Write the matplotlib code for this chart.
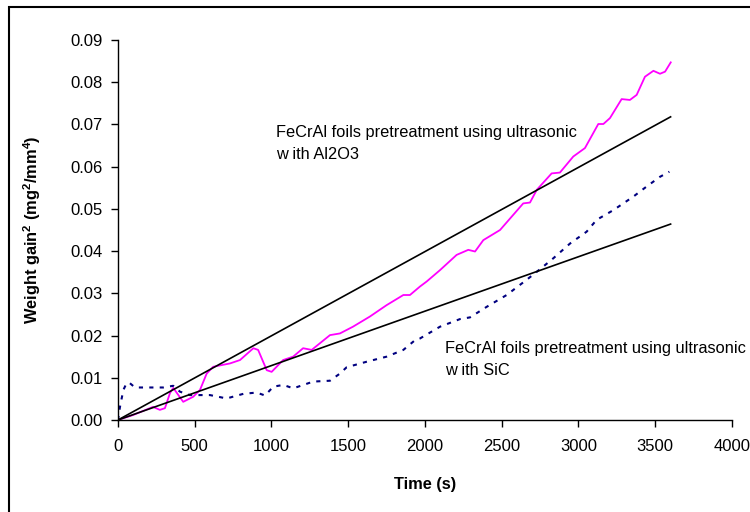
import matplotlib
matplotlib.use("Agg")
import matplotlib.pyplot as plt
from matplotlib.patches import Rectangle

plt.rcParams['font.family'] = ['Liberation Sans', 'DejaVu Sans']
plt.rcParams['mathtext.fontset'] = 'custom'
plt.rcParams['mathtext.rm'] = 'Liberation Sans'
plt.rcParams['mathtext.bf'] = 'Liberation Sans:bold'

# Al2O3 pretreated foil (magenta)
t_al = [0, 100, 228, 273, 306, 339, 360, 425, 490, 534, 578, 620, 730, 795, 882, 913,
        969, 1001, 1076, 1141, 1206, 1262, 1381, 1446, 1531, 1641, 1750, 1859, 1902,
        1967, 2011, 2098, 2206, 2282, 2326, 2380, 2489, 2640, 2684, 2728, 2825, 2879,
        2966, 3042, 3129, 3162, 3205, 3281, 3335, 3379, 3433, 3488, 3531, 3564, 3601]
w_al = [0, 0.0012, 0.0031, 0.0024, 0.0028, 0.0064, 0.0076, 0.0043, 0.0055, 0.0071,
        0.0110, 0.0126, 0.0134, 0.0142, 0.0170, 0.0166, 0.0118, 0.0114, 0.0142, 0.0150,
        0.0170, 0.0166, 0.0201, 0.0205, 0.0221, 0.0245, 0.0272, 0.0296, 0.0296, 0.0316,
        0.0328, 0.0355, 0.0391, 0.0403, 0.0399, 0.0426, 0.0450, 0.0513, 0.0515, 0.0545,
        0.0584, 0.0586, 0.0624, 0.0644, 0.0701, 0.0701, 0.0715, 0.0760, 0.0758, 0.0770,
        0.0813, 0.0827, 0.0820, 0.0825, 0.0847]

# SiC pretreated foil (navy, dashed)
t_sic = [0, 13, 35, 57, 78, 111, 295, 360, 404, 469, 599, 708, 817, 903, 958, 1012,
         1077, 1142, 1272, 1381, 1446, 1490, 1620, 1750, 1859, 1935, 1967, 2098, 2228,
         2293, 2402, 2532, 2662, 2749, 2836, 2945, 3053, 3118, 3227, 3357, 3444, 3531, 3592]
w_sic = [0, 0.0031, 0.0071, 0.0088, 0.0087, 0.0077, 0.0077, 0.0081, 0.0067, 0.0059,
         0.0059, 0.0051, 0.0062, 0.0065, 0.0058, 0.0079, 0.0083, 0.0075, 0.0091, 0.0093,
         0.0110, 0.0125, 0.0138, 0.0150, 0.0166, 0.0189, 0.0193, 0.0221, 0.0239, 0.0243,
         0.0268, 0.0296, 0.0332, 0.0357, 0.0383, 0.0418, 0.0446, 0.0474, 0.0497, 0.0529,
         0.0553, 0.0576, 0.0588]

# linear fits through origin
fit_t = [0, 3600]
fit_al = [0, 0.0718]
fit_sic = [0, 0.0464]

fig = plt.figure(figsize=(7.5, 5.12), dpi=100)
fig.patches.append(Rectangle((9 / 750, -0.1), 1.1, 1 - 7 / 512 + 0.1,
                             transform=fig.transFigure, fill=False,
                             edgecolor='black', linewidth=1.5))
ax = fig.add_axes([0.1573, 0.1797, 0.8187, 0.7422])

ax.plot(t_al, w_al, color='#ff00ff', linewidth=1.3)
ax.plot(t_sic, w_sic, color='#000080', linewidth=1.5, dashes=(2, 3))
ax.plot(fit_t, fit_al, color='black', linewidth=1.2)
ax.plot(fit_t, fit_sic, color='black', linewidth=1.2)

ax.text(1030, 0.0654, 'FeCrAl foils pretreatment using ultrasonic\nw ith Al2O3',
        fontsize=11.8, va='center', ha='left', linespacing=1.6)
ax.text(2130, 0.0143, 'FeCrAl foils pretreatment using ultrasonic\nw ith SiC',
        fontsize=11.8, va='center', ha='left', linespacing=1.6)

ax.set_xlim(0, 4000)
ax.set_ylim(0, 0.09)
ax.set_xticks(range(0, 4001, 500))
ax.set_yticks([i * 0.01 for i in range(10)])
ax.set_yticklabels([f'{i * 0.01:.2f}' for i in range(10)])
ax.tick_params(direction='out', length=5, width=1, labelsize=12)
ax.tick_params(axis='x', pad=9)
ax.tick_params(axis='y', pad=6)
for s in ['top', 'right']:
    ax.spines[s].set_visible(False)
for s in ['left', 'bottom']:
    ax.spines[s].set_linewidth(1)

ax.set_xlabel('Time (s)', fontsize=11.8, fontweight='bold', labelpad=16)
ax.set_ylabel(r'Weight gain$^{\mathbf{2}}$ (mg$^{\mathbf{2}}$/mm$^{\mathbf{4}}$)',
              fontsize=11.8, fontweight='bold', labelpad=20)

fig.savefig('out.png', dpi=100)
